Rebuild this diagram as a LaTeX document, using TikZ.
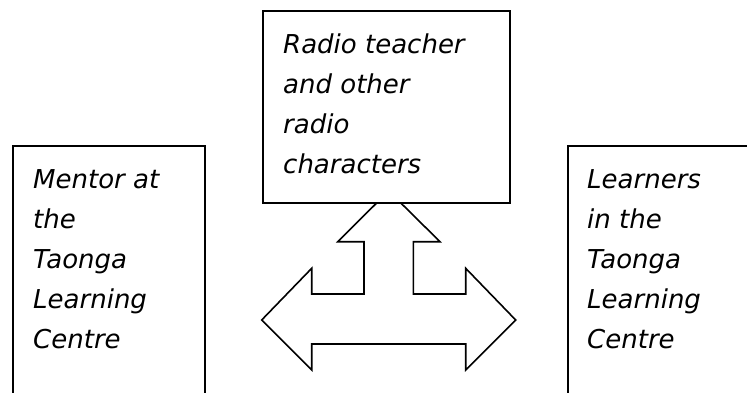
\documentclass[tikz,border=0pt]{standalone}
\usepackage{fontspec}
\setmainfont{DejaVu Sans}
\begin{document}
\begin{tikzpicture}[x=1pt,y=-1pt,
  boxline/.style={draw=black,line width=1.6pt,fill=white},
  lbl/.style={anchor=base west,inner sep=0pt,font=\fontsize{26}{40}\selectfont\itshape}]
\useasboundingbox (0,0) rectangle (747,392);
\clip (0,0) rectangle (747,392);
\fill[white] (0,0) rectangle (747,392);
% boxes (left and right run past the picture's edges)
\node[boxline,anchor=north west,minimum width=192pt,minimum height=280pt,inner sep=0pt] (mentor) at (12,145) {};
\node[boxline,anchor=north west,minimum width=200pt,minimum height=280pt,inner sep=0pt] (learners) at (567,145) {};
% three-way arrow
\draw[line width=1.6pt,line join=miter,fill=white]
  (388.7,191) -- (440,241.7) -- (413.3,241.7) -- (413.3,294) -- (465.7,294) -- (465.7,268.3)
  -- (515.7,320) -- (465.7,370) -- (465.7,344) -- (311.7,344) -- (311.7,370)
  -- (261.7,320) -- (311.7,268.3) -- (311.7,294) -- (364,294) -- (364,241.7)
  -- (337.7,241.7) -- cycle;
\node[boxline,anchor=north west,minimum width=247pt,minimum height=192pt,inner sep=0pt] (radio) at (262,10) {};
% texts
\node[lbl] (tradio) at (283,53) {\parbox[t]{220pt}{\raggedright Radio teacher\\and other\\radio\\characters}};
\node[lbl] (tmentor) at (33,188) {\parbox[t]{170pt}{\raggedright Mentor at\\the\\Taonga\\Learning\\Centre}};
\node[lbl] (tlearners) at (587,188) {\parbox[t]{160pt}{\raggedright Learners\\in the\\Taonga\\Learning\\Centre}};
\end{tikzpicture}
\end{document}
